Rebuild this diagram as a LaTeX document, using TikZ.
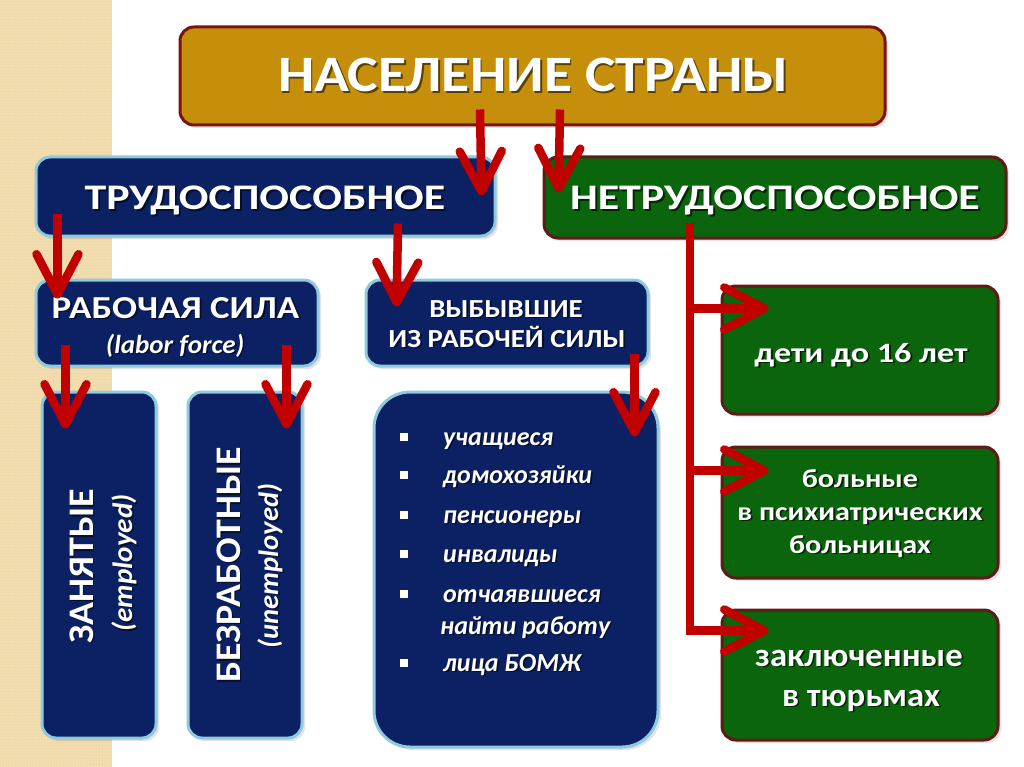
\documentclass[tikz,border=0pt]{standalone}
\usepackage{fontspec}
\usepackage{graphicx}
\setmainfont{Carlito}
\usetikzlibrary{arrows.meta,patterns,calc,shadows}
\definecolor{navy}{HTML}{0B2163}
\definecolor{lblue}{HTML}{8FC9DD}
\definecolor{gold}{HTML}{C58E0B}
\definecolor{dred}{HTML}{7E1212}
\definecolor{grn}{HTML}{0A650C}
\definecolor{gbrd}{HTML}{5E1B17}
\definecolor{arr}{HTML}{C10000}
\definecolor{beige}{HTML}{F2DDB0}
\definecolor{beiged}{HTML}{E2C995}
\colorlet{shgold}{gold!45!black}
\colorlet{shblue}{navy!45!black}
\colorlet{shgrn}{grn!40!black}
\newcommand{\fsz}[1]{\fontsize{#1}{1.2\dimexpr #1pt\relax}\selectfont}
\newcommand{\hs}[2]{\scalebox{#1}[1]{#2}}
% text with a drop shadow (down-right on the page)
\newcommand{\sh}[2]{\rlap{\kern1.6pt\raisebox{-1.6pt}{\textcolor{#1}{#2}}}#2}
% shadow for text rotated by 90 degrees
\newcommand{\shr}[2]{\rlap{\kern-1.6pt\raisebox{-1.6pt}{\textcolor{#1}{#2}}}#2}
\newcommand{\blt}{\raisebox{4pt}{\rule{8pt}{8pt}}}
\tikzset{
 box/.style={rectangle, rounded corners=14pt, line width=3pt, inner sep=0pt,
   drop shadow={opacity=0.22, shadow xshift=3pt, shadow yshift=-3pt}},
 bluebox/.style={box, fill=navy, draw=lblue},
 greenbox/.style={box, fill=grn, draw=gbrd},
 goldbox/.style={box, fill=gold, draw=dred},
 txt/.style={text=white, inner sep=0pt, anchor=base},
 litem/.style={text=white, anchor=base west, inner sep=0pt, font=\bfseries\itshape\fsz{26}},
 redarrow/.style={draw=arr, line width=8.5pt, -{Straight Barb[length=40pt,width=42pt,round]}},
}
\begin{document}
\begin{tikzpicture}[x=1pt,y=-1pt]
\useasboundingbox (0,0) rectangle (1024,767);
\fill[white] (0,0) rectangle (1024,767);
\fill[beige] (0,0) rectangle (112,767);
\fill[pattern=dots, pattern color=beiged] (0,0) rectangle (112,767);

% boxes
\node[goldbox, minimum width=705pt, minimum height=98pt] (top) at (532.5,76) {};
\node[bluebox, minimum width=459pt, minimum height=79pt] (trud) at (265.5,196.5) {};
\node[greenbox, minimum width=462pt, minimum height=81pt] (net) at (775,197.5) {};
\node[bluebox, minimum width=282pt, minimum height=86pt] (rab) at (177,323) {};
\node[bluebox, minimum width=282pt, minimum height=86pt] (vyb) at (507,323) {};
\node[bluebox, minimum width=114pt, minimum height=346pt] (zan) at (99,565) {};
\node[bluebox, minimum width=114pt, minimum height=346pt] (bez) at (245,565) {};
\node[bluebox, rounded corners=36pt, minimum width=284pt, minimum height=355pt] (list) at (516,569.5) {};
\node[greenbox, minimum width=276pt, minimum height=128pt] (deti) at (860,350) {};
\node[greenbox, minimum width=276pt, minimum height=131pt] (bol) at (860,512.5) {};
\node[greenbox, minimum width=276pt, minimum height=130pt] (zak) at (860,675) {};

% texts
\node[txt, font=\bfseries\fsz{51}] (ttop) at (533.5,92) {\hs{1.13}{\sh{shgold}{НАСЕЛЕНИЕ СТРАНЫ}}};
\node[txt, font=\bfseries\fsz{36}] (ttrud) at (265,210) {\hs{1.22}{\sh{shblue}{ТРУДОСПОСОБНОЕ}}};
\node[txt, font=\bfseries\fsz{36}] (tnet) at (775,210) {\hs{1.22}{\sh{shgrn}{НЕТРУДОСПОСОБНОЕ}}};
\node[txt, font=\bfseries\fsz{32}] (trab) at (175.5,318) {\hs{1.155}{\sh{shblue}{РАБОЧАЯ СИЛА}}};
\node[txt, font=\bfseries\itshape\fsz{26}] (trab2) at (175,353) {\hs{1.04}{\sh{shblue}{(labor force)}}};
\node[txt, font=\bfseries\fsz{26}] (tvyb) at (506,317) {\hs{1.11}{\sh{shblue}{ВЫБЫВШИЕ}}};
\node[txt, font=\bfseries\fsz{26}] (tvyb2) at (507,347) {\hs{1.11}{\sh{shblue}{ИЗ РАБОЧЕЙ СИЛЫ}}};
\node[txt, rotate=90, font=\bfseries\fsz{36}] (tzan) at (93,566) {\hs{1.055}{\shr{shblue}{ЗАНЯТЫЕ}}};
\node[txt, rotate=90, font=\bfseries\itshape\fsz{28}] (tzan2) at (132,563) {\hs{1.04}{\shr{shblue}{(employed)}}};
\node[txt, rotate=90, font=\bfseries\fsz{36}] (tbez) at (240,565) {\hs{1.05}{\shr{shblue}{БЕЗРАБОТНЫЕ}}};
\node[txt, rotate=90, font=\bfseries\itshape\fsz{28}] (tbez2) at (278,566) {\hs{1.02}{\shr{shblue}{(unemployed)}}};

\node[litem] (l1) at (400,445) {\blt\hspace{35pt}\sh{shblue}{учащиеся}};
\node[litem] (l2) at (400,483) {\blt\hspace{35pt}\sh{shblue}{домохозяйки}};
\node[litem] (l3) at (400,523) {\blt\hspace{35pt}\sh{shblue}{пенсионеры}};
\node[litem] (l4) at (400,562) {\blt\hspace{35pt}\sh{shblue}{инвалиды}};
\node[litem] (l5) at (400,602) {\blt\hspace{35pt}\sh{shblue}{отчаявшиеся}};
\node[litem] (l5b) at (440,634) {\sh{shblue}{найти работу}};
\node[litem] (l6) at (400,671) {\blt\hspace{35pt}\sh{shblue}{лица БОМЖ}};

\node[txt, font=\bfseries\fsz{28}] (tdeti) at (861,362) {\hs{1.22}{\sh{shgrn}{дети до 16 лет}}};
\node[txt, font=\bfseries\fsz{26}] (tbol1) at (860,487) {\hs{1.16}{\sh{shgrn}{больные}}};
\node[txt, font=\bfseries\fsz{26}] (tbol2) at (860,520) {\hs{1.16}{\sh{shgrn}{в психиатрических}}};
\node[txt, font=\bfseries\fsz{26}] (tbol3) at (860,553) {\hs{1.16}{\sh{shgrn}{больницах}}};
\node[txt, font=\bfseries\fsz{33}] (tzak1) at (859,666) {\hs{1.05}{\sh{shgrn}{заключенные}}};
\node[txt, font=\bfseries\fsz{33}] (tzak2) at (861,706) {\hs{1.05}{\sh{shgrn}{в тюрьмах}}};

% arrows
\draw[redarrow] ($(top.south)+(-52.5,-17)$) -- ($(trud.north east)+(-15,40)$);
\draw[redarrow] ($(top.south)+(27.5,-17)$) -- ($(net.north west)+(16,37)$);
\draw[redarrow] ($(trud.south west)+(23,-23)$) -- ($(rab.north west)+(23,20)$);
\draw[redarrow] ($(trud.south)+(132.5,-14)$) -- ($(vyb.north west)+(32,28)$);
\draw[redarrow] ($(rab.south west)+(31,-23)$) -- ($(zan.north west)+(25,38)$);
\draw[redarrow] ($(rab.south east)+(-33,-23)$) -- ($(bez.north east)+(-17,38)$);
\draw[redarrow] ($(vyb.south east)+(-15,-14)$) -- ($(list.north east)+(-25,46)$);

\coordinate (trunk) at ($(net.south)+(-85,-16)$);
\draw[redarrow] (trunk) |- ($(zak.north west)+(48,22)$);
\draw[redarrow] (trunk |- deti.north west) ++(0,24) coordinate (b1) -- ($(deti.north west)+(48,24)$);
\draw[redarrow] (trunk |- bol.north west) ++(0,25) coordinate (b2) -- ($(bol.north west)+(48,25)$);
\end{tikzpicture}
\end{document}
